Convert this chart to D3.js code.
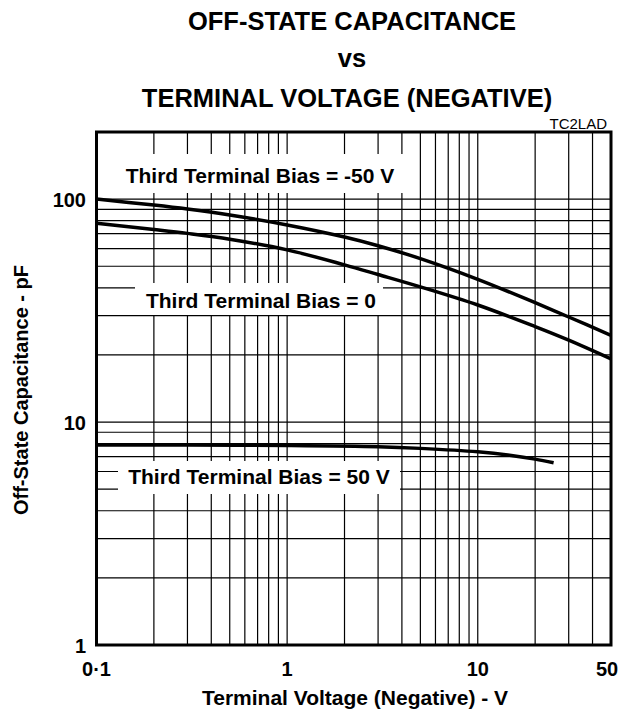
<!DOCTYPE html>
<html>
<head>
<meta charset="utf-8">
<script src="https://cdnjs.cloudflare.com/ajax/libs/d3/7.8.5/d3.min.js"></script>
<style>
  html, body { margin: 0; padding: 0; background: #fff; }
  text { font-family: "Liberation Sans", Arial, sans-serif; fill: #000; }
</style>
</head>
<body>
<div id="chart"></div>
<script>
// terminal voltage (V) and off-state capacitance (pF) per bias curve
const voltsNeg50 = [0.1, 0.2, 0.3, 0.5, 1, 2, 3, 5, 10, 20, 30, 50];
const capNeg50   = [100, 94, 90.2, 84.8, 76.6, 67.6, 61.8, 54.1, 43.7, 34.3, 29.6, 24.5];

const voltsZero = [0.1, 0.2, 0.3, 0.5, 1, 2, 3, 5, 10, 20, 30, 50];
const capZero   = [78, 73.1, 70.2, 66.1, 59.2, 50.7, 45.9, 40.4, 33.5, 26.8, 23.3, 19.2];

const voltsPos50 = [0.1, 0.3, 1, 3, 5, 10, 15, 20, 25];
const capPos50   = [7.9, 7.89, 7.85, 7.75, 7.62, 7.35, 7.08, 6.82, 6.57];

const xGrid = [0.2, 0.3, 0.4, 0.5, 0.6, 0.7, 0.8, 0.9, 1, 2, 3, 4, 5, 6, 7, 8, 9, 10, 20, 30, 40];
const yGrid = [2, 3, 4, 5, 6, 7, 8, 9, 10, 20, 30, 40, 50, 60, 70, 80, 90, 100];
const xTicks = [0.1, 1, 10, 50];
const xTickLabels = ['0·1', '1', '10', '50'];
const yTicks = [1, 10, 100];
const yTickLabels = ['1', '10', '100'];

const labels = [
  { text: 'Third Terminal Bias = -50 V', cx: 260, base: 183, box: [113, 154, 408, 193] },
  { text: 'Third Terminal Bias = 0', cx: 261, base: 308, box: [135, 283, 383, 315] },
  { text: 'Third Terminal Bias = 50 V', cx: 259, base: 484, box: [118, 461, 400, 494] }
];

const W = 629, H = 722;
const plotL = 96.5, plotR = 611, plotT = 132, plotB = 645;

const svg = d3.select('#chart').append('svg')
  .attr('width', W).attr('height', H);

const x = d3.scaleLog().domain([0.1, 50]).range([plotL, plotR]);
const y = d3.scaleLog().domain([1, 200]).range([plotB, plotT]);

// title
const title = svg.append('g').attr('font-weight', 'bold').attr('text-anchor', 'middle').attr('font-size', 25.5);
title.append('text').attr('x', 352).attr('y', 30).text('OFF-STATE CAPACITANCE');
title.append('text').attr('x', 352).attr('y', 67).text('vs');
title.append('text').attr('x', 347).attr('y', 107).text('TERMINAL VOLTAGE (NEGATIVE)');

svg.append('text').attr('x', 607).attr('y', 129).attr('text-anchor', 'end')
  .attr('font-size', 15).text('TC2LAD');

// grid
svg.append('g').selectAll('line').data(xGrid).enter().append('line')
  .attr('x1', d => x(d)).attr('x2', d => x(d))
  .attr('y1', plotT).attr('y2', plotB)
  .attr('stroke', '#000').attr('stroke-width', 1.2);

svg.append('g').selectAll('line').data(yGrid).enter().append('line')
  .attr('x1', plotL).attr('x2', plotR)
  .attr('y1', d => y(d)).attr('y2', d => y(d))
  .attr('stroke', '#000').attr('stroke-width', 1.2);

// label backgrounds hide grid
svg.append('g').selectAll('rect').data(labels).enter().append('rect')
  .attr('x', d => d.box[0]).attr('y', d => d.box[1])
  .attr('width', d => d.box[2] - d.box[0]).attr('height', d => d.box[3] - d.box[1])
  .attr('fill', '#fff');

svg.append('g').selectAll('text').data(labels).enter().append('text')
  .attr('x', d => d.cx).attr('y', d => d.base)
  .attr('text-anchor', 'middle').attr('font-weight', 'bold').attr('font-size', 21)
  .text(d => d.text);

// curves
svg.append('clipPath').attr('id', 'plot').append('rect')
  .attr('x', plotL).attr('y', plotT).attr('width', plotR - plotL).attr('height', plotB - plotT);

const line = d3.line()
  .x(d => x(d[0]))
  .y(d => y(d[1]))
  .curve(d3.curveCatmullRom.alpha(0.5));

[[voltsNeg50, capNeg50], [voltsZero, capZero], [voltsPos50, capPos50]].forEach(([vs, cs]) => {
  svg.append('path')
    .datum(d3.zip(vs, cs))
    .attr('d', line)
    .attr('fill', 'none')
    .attr('stroke', '#000')
    .attr('stroke-width', 3.5)
    .attr('stroke-linecap', 'butt')
    .attr('clip-path', 'url(#plot)');
});

// frame
svg.append('rect')
  .attr('x', plotL).attr('y', plotT).attr('width', plotR - plotL).attr('height', plotB - plotT)
  .attr('fill', 'none').attr('stroke', '#000').attr('stroke-width', 3);

// tick labels
svg.append('g').selectAll('text').data(xTicks).enter().append('text')
  .attr('x', (d, i) => x(d) - (i === xTicks.length - 1 ? 4 : 0))
  .attr('y', 676)
  .attr('text-anchor', 'middle').attr('font-weight', 'bold').attr('font-size', 20)
  .text((d, i) => xTickLabels[i]);

svg.append('g').selectAll('text').data(yTicks).enter().append('text')
  .attr('x', 86)
  .attr('y', d => y(d) + 7.5)
  .attr('text-anchor', 'end').attr('font-weight', 'bold').attr('font-size', 20)
  .text((d, i) => yTickLabels[i]);

// axis titles
svg.append('text').attr('x', 355).attr('y', 705)
  .attr('text-anchor', 'middle').attr('font-weight', 'bold').attr('font-size', 21)
  .text('Terminal Voltage (Negative) - V');

svg.append('text')
  .attr('transform', 'translate(28,390) rotate(-90)')
  .attr('text-anchor', 'middle').attr('font-weight', 'bold').attr('font-size', 20)
  .text('Off-State Capacitance - pF');
</script>
</body>
</html>
